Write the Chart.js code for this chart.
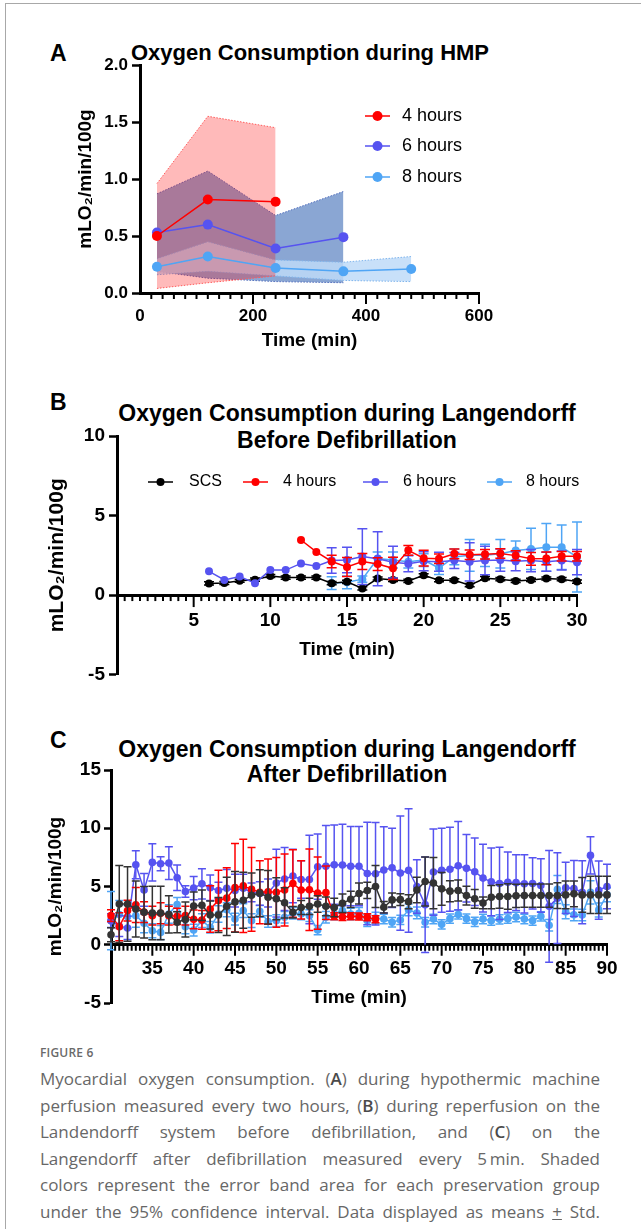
<!DOCTYPE html>
<html>
<head>
<meta charset="utf-8">
<title>Figure 6</title>
<script src="https://cdn.jsdelivr.net/npm/chart.js@4.4.0/dist/chart.umd.min.js"></script>
<style>
  html, body { margin: 0; padding: 0; background: #fff; }
  body { width: 641px; height: 1229px; position: relative; overflow: hidden; font-family: 'Liberation Sans', Arial, sans-serif; }
  .frame { position: absolute; left: 5px; top: 3px; width: 700px; height: 1300px; border-left: 1px solid #a8a8a8; border-top: 1px solid #a8a8a8; }
  canvas { position: absolute; left: 0; }
  .letter { position: absolute; font-weight: bold; font-size: 23px; line-height: 23px; color: #000; }
  .ptitle { position: absolute; font-weight: bold; color: #000; text-align: center; white-space: nowrap; transform: translateX(-50%); }
  .caption { position: absolute; left: 40px; top: 1040px; width: 560px; font-family: 'Open Sans', 'Noto Sans', sans-serif; color: #676767; }
  .caption .head { font-size: 12px; font-weight: 600; line-height: 26px; color: #6a6a6a; letter-spacing: 0.2px; }
  .caption .ln { font-size: 17px; line-height: 26.5px; text-align: justify; text-align-last: justify; white-space: nowrap; }
  .caption b { font-weight: 600; color: #4a4a4a; }
</style>
</head>
<body>
<div class="frame"></div>

<div class="letter" style="left:50px; top:42px;">A</div>
<div class="ptitle" style="left:310px; top:40px; font-size:22px; line-height:26px;">Oxygen Consumption during HMP</div>
<canvas id="chartA" width="641" height="360" style="top:0;"></canvas>

<div class="letter" style="left:50px; top:391px;">B</div>
<div class="ptitle" style="left:347px; top:400px; font-size:23px; line-height:27px;">Oxygen Consumption during Langendorff<br>Before Defibrillation</div>
<canvas id="chartB" width="641" height="330" style="top:360px;"></canvas>

<div class="letter" style="left:50px; top:729px;">C</div>
<div class="ptitle" style="left:347px; top:737px; font-size:23px; line-height:25px;">Oxygen Consumption during Langendorff<br>After Defibrillation</div>
<canvas id="chartC" width="641" height="330" style="top:690px;"></canvas>

<div class="caption">
  <div class="head">FIGURE 6</div>
  <div class="ln">Myocardial oxygen consumption. (<b>A</b>) during hypothermic machine</div>
  <div class="ln">perfusion measured every two hours, (<b>B</b>) during reperfusion on the</div>
  <div class="ln">Landendorff system before defibrillation, and (<b>C</b>) on the</div>
  <div class="ln">Langendorff after defibrillation measured every 5&#8201;min. Shaded</div>
  <div class="ln">colors represent the error band area for each preservation group</div>
  <div class="ln">under the 95% confidence interval. Data displayed as means <u>+</u> Std.</div>
</div>

<script>
// ---- Panel A: HMP, mean and SD band ----
const hmpTime4 = [30, 120, 240];
const hmpTime6 = [30, 120, 240, 360];
const hmpTime8 = [30, 120, 240, 360, 480];
const hmp4Mean = [0.50, 0.82, 0.80];
const hmp4Sd = [0.46, 0.73, 0.65];
const hmp6Mean = [0.53, 0.60, 0.39, 0.49];
const hmp6Sd = [0.34, 0.47, 0.29, 0.40];
const hmp8Mean = [0.23, 0.32, 0.22, 0.19, 0.21];
const hmp8Sd = [0.07, 0.13, 0.07, 0.08, 0.11];
const hmpTicksY = [0, 0.5, 1, 1.5, 2];

// ---- Panel B: Langendorff before defibrillation ----
const bTime = [6, 7, 8, 9, 10, 11, 12, 13, 14, 15, 16, 17, 18, 19, 20, 21, 22, 23, 24, 25, 26, 27, 28, 29, 30];
const b4Time = [12, 13, 14, 15, 16, 17, 18, 19, 20, 21, 22, 23, 24, 25, 26, 27, 28, 29, 30];
const b8Time = [14, 15, 16, 17, 18, 19, 20, 21, 22, 23, 24, 25, 26, 27, 28, 29, 30];
const bScs = [0.73, 0.76, 0.9, 0.97, 1.2, 1.1, 1.1, 1.1, 0.75, 0.83, 0.42, 1.04, 0.95, 0.89, 1.24, 0.93, 0.93, 0.62, 1.06, 1.0, 0.89, 0.95, 1.04, 1.0, 0.85];
const bScsSd = [0.1, 0.1, 0.1, 0.1, 0.1, 0.1, 0.1, 0.1, 0.1, 0.1, 0.1, 0.1, 0.1, 0.1, 0.1, 0.1, 0.1, 0.1, 0.1, 0.1, 0.1, 0.1, 0.1, 0.1, 0.1];
const b4h = [3.46, 2.71, 2.11, 1.76, 2.11, 1.95, 1.68, 2.81, 2.32, 2.28, 2.59, 2.53, 2.57, 2.61, 2.48, 2.28, 2.3, 2.44, 2.44];
const b4hSd = [0, 0, 0.4, 0.6, 0.5, 0.4, 0.7, 0.3, 0.5, 0.3, 0.3, 0.3, 0.3, 0.3, 0.3, 0.4, 0.4, 0.3, 0.3];
const b6h = [1.49, 0.95, 1.16, 0.75, 1.57, 1.57, 1.99, 1.82, 2.17, 2.2, 2.42, 2.28, 2.07, 1.97, 2.13, 2.09, 2.17, 2.09, 2.17, 2.2, 2.13, 2.17, 2.09, 2.17, 2.07];
const b6hSd = [0, 0, 0, 0, 0, 0, 0, 0, 0.8, 0.8, 1.75, 1.7, 1.0, 0.5, 0.6, 0.6, 0.5, 1.2, 0.9, 0.7, 0.6, 0.7, 0.6, 0.6, 0.8];
const b8h = [0.75, 0.8, 1.0, 2.3, 2.2, 2.1, 2.2, 1.7, 2.4, 2.5, 2.5, 2.6, 2.8, 2.9, 3.0, 3.0, 2.4];
const b8hSd = [0.4, 0.4, 0.2, 0.4, 0.5, 0.4, 0.4, 0.4, 0.5, 1.0, 0.7, 0.9, 0.6, 1.3, 1.5, 1.4, 2.2];

// ---- Panel C: Langendorff after defibrillation ----
const cTime = [30, 31, 32, 33, 34, 35, 36, 37, 38, 39, 40, 41, 42, 43, 44, 45, 46, 47, 48, 49,
  50, 51, 52, 53, 54, 55, 56, 57, 58, 59, 60, 61, 62, 63, 64, 65, 66, 67, 68, 69,
  70, 71, 72, 73, 74, 75, 76, 77, 78, 79, 80, 81, 82, 83, 84, 85, 86, 87, 88, 89, 90];
const c4Time = [30, 31, 32, 33, 34, 35, 36, 37, 38, 39, 40, 41, 42, 43, 44, 45, 46, 47, 48, 49,
  50, 51, 52, 53, 54, 55, 56, 57, 58, 59, 60, 61, 62];
const cScs = [0.86, 3.5, 3.5, 3.07, 2.79, 2.73, 2.73, 2.6, 1.93, 2.16,
  3.33, 3.39, 2.56, 2.56, 3.3, 3.68, 3.82, 4.25, 4.43, 4.08,
  3.95, 3.6, 2.79, 3.2, 3.3, 3.5, 3.3, 3.2, 3.56, 3.9,
  4.4, 4.66, 5.0, 3.22, 3.85, 3.87, 3.7, 4.7, 5.43, 5.29,
  4.8, 4.6, 4.66, 4.22, 3.94, 3.59, 4.08, 4.14, 4.14, 4.2,
  4.22, 4.22, 4.22, 4.22, 4.22, 4.28, 4.37, 4.28, 4.28, 4.28, 4.28];
const cScsSd = [0.6, 3.3, 3.2, 2.4, 2.2, 2.3, 2.3, 1.6, 0.9, 1.5,
  1.2, 1.3, 1.2, 1.5, 2.5, 2.6, 2.4, 1.9, 2.0, 2.3,
  1.8, 1.3, 0.5, 0.6, 0.7, 0.7, 0.8, 0.8, 0.8, 0.7,
  0.9, 0.7, 1.8, 0.5, 0.6, 0.5, 0.6, 1.1, 2.1, 2.2,
  1.4, 0.9, 0.9, 0.8, 0.8, 0.5, 1.0, 1.0, 1.1, 1.0,
  1.0, 1.0, 1.0, 1.0, 1.1, 1.2, 1.1, 1.5, 1.6, 1.6, 1.6];
const c4h = [2.5, 1.55, 2.93, 3.42, 2.8, 2.5, 2.7, 2.5, 2.44, 2.5,
  2.18, 2.13, 3.07, 3.8, 4.0, 4.9, 5.05, 4.75, 4.5, 4.55,
  4.5, 4.7, 5.25, 4.7, 4.72, 4.43, 4.47, 2.45, 2.38, 2.45,
  2.42, 2.36, 2.18];
const c4hSd = [0.5, 1.2, 0.9, 1.5, 0.9, 0.8, 0.9, 0.8, 0.7, 0.8,
  0.8, 0.8, 2.0, 2.6, 2.6, 3.8, 4.0, 3.6, 2.7, 2.8,
  3.0, 3.1, 2.9, 2.5, 3.5, 3.1, 2.3, 0.3, 0.3, 0.3,
  0.3, 0.3, 0.3];
const c6h = [2.07, 1.6, 1.44, 6.87, 4.71, 7.07, 6.95, 7.01, 5.75, 4.57,
  4.86, 5.23, 4.89, 4.66, 4.85, 4.65, 4.85, 4.5, 4.4, 4.45,
  5.29, 5.65, 5.9, 5.6, 5.6, 6.7, 6.74, 6.87, 6.84, 6.74,
  6.74, 6.12, 6.1, 6.42, 6.6, 6.15, 6.38, 5.0, 3.44, 6.24,
  6.4, 6.48, 6.78, 6.56, 6.27, 5.72, 5.4, 5.26, 5.36, 5.33,
  5.23, 5.26, 5.09, 3.3, 4.0, 4.89, 4.83, 4.5, 7.67, 4.68, 5.0];
const c6hSd = [0.6, 0.9, 1.0, 1.2, 1.4, 1.6, 0.6, 1.4, 1.1, 0.5,
  1.0, 1.3, 1.1, 0.7, 1.6, 1.4, 1.2, 0.8, 1.0, 1.2,
  2.9, 2.7, 2.3, 1.6, 3.8, 2.8, 3.5, 3.4, 3.5, 3.4,
  3.4, 4.4, 4.4, 3.7, 3.4, 4.9, 5.3, 2.3, 4.1, 3.7,
  3.6, 3.6, 3.8, 2.9, 2.9, 2.9, 2.9, 3.1, 2.6, 2.4,
  2.5, 2.2, 2.3, 4.8, 3.9, 2.2, 2.4, 2.7, 1.6, 2.5, 1.9];
const c8h = [2.07, 2.6, 2.4, 2.5, 1.84, 1.2, 1.06, 2.64, 3.45, 1.55,
  1.26, 2.07, 1.5, 2.64, 3.0, 2.2, 2.93, 2.07, 2.87, 2.0,
  2.07, 2.36, 2.7, 2.64, 2.5, 1.26, 2.36, 2.64, 2.93, 2.64,
  2.7, 2.07, 2.3, 2.21, 1.93, 2.13, 3.0, 2.73, 1.93, 2.21,
  1.75, 2.24, 2.6, 2.24, 1.97, 2.21, 2.07, 2.18, 2.24, 2.38,
  2.21, 2.07, 2.44, 1.67, 4.75, 2.83, 2.57, 2.55, 4.5, 2.99, 4.3];
const c8hSd = [2.5, 1.2, 1.0, 1.0, 0.8, 0.6, 0.6, 0.8, 0.6, 0.6,
  0.5, 0.6, 0.5, 0.7, 0.6, 0.5, 0.6, 0.6, 0.5, 0.5,
  0.5, 0.5, 0.5, 0.5, 0.5, 0.4, 0.5, 0.5, 0.5, 0.5,
  0.5, 0.5, 0.5, 0.4, 0.4, 0.4, 0.5, 0.5, 0.4, 0.4,
  0.4, 0.4, 0.4, 0.4, 0.4, 0.4, 0.4, 0.4, 0.4, 0.4,
  0.4, 0.4, 0.4, 0.5, 1.2, 0.6, 0.5, 0.5, 1.0, 0.6, 0.6];

const RED = '#ff0000';
const PURPLE = '#5653f0';
const SKY = '#4fa5f5';

Chart.defaults.font.family = "'Liberation Sans', Arial, Helvetica, sans-serif";
Chart.defaults.color = '#000';
Chart.defaults.animation = false;

function pts(xs, ys) {
    return xs.map((x, i) => ({ x: x, y: ys[i] }));
}

function offsetBy(mean, sd, sign) {
    return mean.map((m, i) => m + sign * sd[i]);
}

function isMajor(v, every) {
    return Math.abs(v / every - Math.round(v / every)) < 1e-6;
}

// error bars are drawn just before each dataset so points sit on top
const errorBars = {
    id: 'errorBars',
    beforeDatasetDraw(chart, args, opts) {
        const ds = chart.data.datasets[args.index];
        if (!ds.errors) return;
        const ctx = chart.ctx;
        const ys = chart.scales.y;
        ctx.save();
        ctx.strokeStyle = ds.borderColor;
        ctx.lineWidth = opts.width || 1.5;
        args.meta.data.forEach((pt, i) => {
            const v = ds.data[i].y;
            const e = ds.errors[i];
            if (v == null || !e) return;
            const top = ys.getPixelForValue(v + e);
            const bot = ys.getPixelForValue(v - e);
            const w = opts.cap || 4;
            ctx.beginPath();
            ctx.moveTo(pt.x, top); ctx.lineTo(pt.x, bot);
            ctx.moveTo(pt.x - w, top); ctx.lineTo(pt.x + w, top);
            ctx.moveTo(pt.x - w, bot); ctx.lineTo(pt.x + w, bot);
            ctx.stroke();
        });
        ctx.restore();
    }
};

// x tick marks: long on labelled values, short in between
const tickMarks = {
    id: 'tickMarks',
    afterDatasetsDraw(chart, args, opts) {
        const ctx = chart.ctx;
        const xs = chart.scales.x;
        const ys = chart.scales.y;
        const y0 = ys.getPixelForValue(opts.at);
        ctx.save();
        ctx.strokeStyle = '#000';
        ctx.lineWidth = opts.width;
        xs.ticks.forEach(t => {
            if (t.value === xs.min) return;
            const px = xs.getPixelForValue(t.value);
            const len = isMajor(t.value, opts.every) ? opts.major : opts.minor;
            ctx.beginPath();
            ctx.moveTo(px, y0);
            ctx.lineTo(px, y0 + len);
            ctx.stroke();
        });
        ctx.restore();
    }
};

const inlineLegend = {
    id: 'inlineLegend',
    afterDraw(chart, args, opts) {
        if (!opts.items) return;
        const ctx = chart.ctx;
        ctx.save();
        ctx.font = opts.fontSize + "px 'Liberation Sans', Arial, sans-serif";
        ctx.textBaseline = 'middle';
        opts.items.forEach(it => {
            const ds = chart.data.datasets[it.index];
            ctx.strokeStyle = ds.borderColor;
            ctx.lineWidth = opts.lineWidth;
            ctx.beginPath();
            ctx.moveTo(it.x, it.y);
            ctx.lineTo(it.x + opts.lineLen, it.y);
            ctx.stroke();
            ctx.fillStyle = ds.pointBackgroundColor;
            ctx.beginPath();
            ctx.arc(it.x + opts.lineLen / 2, it.y, opts.dot, 0, Math.PI * 2);
            ctx.fill();
            ctx.fillStyle = '#000';
            ctx.fillText(ds.label, it.textX, it.y);
        });
        ctx.restore();
    }
};

function meanLine(label, xs, ys, color, radius, order, errors) {
    return {
        label: label,
        data: pts(xs, ys),
        errors: errors,
        borderColor: color,
        backgroundColor: color,
        pointBackgroundColor: color,
        pointBorderColor: color,
        pointRadius: radius,
        pointBorderWidth: 0,
        borderWidth: 1.5,
        fill: false,
        order: order,
        clip: false
    };
}

function bandEdge(xs, ys, edge, fillColor, order, fillNext) {
    return {
        data: pts(xs, ys),
        borderColor: edge,
        borderWidth: 1,
        borderDash: [1.5, 1.5],
        backgroundColor: fillColor,
        fill: fillNext ? '+1' : false,
        pointRadius: 0,
        order: order
    };
}

function yAxis(min, max, step, size, titleSize, titlePad, tickLen, tickPad, fmt) {
    return {
        type: 'linear',
        min: min,
        max: max,
        afterFit: s => { s.width = 80; },
        grid: { drawOnChartArea: false, drawTicks: true, tickLength: tickLen, tickWidth: 2.5, tickColor: '#000' },
        border: { display: true, color: '#000', width: 3 },
        ticks: { stepSize: step, padding: tickPad, font: { size: size, weight: 'bold' }, callback: fmt },
        title: { display: true, text: 'mLO\u2082/min/100g', font: { size: titleSize, weight: 'bold' }, padding: { top: titlePad, bottom: 0 } }
    };
}

function xAxis(min, max, step, every, position, height, size, labelPad, titlePad) {
    return {
        type: 'linear',
        min: min,
        max: max,
        position: position,
        afterFit: s => { s.height = height; },
        grid: { display: true, drawOnChartArea: false, drawTicks: false },
        border: { display: true, color: '#000', width: 3 },
        ticks: {
            stepSize: step, autoSkip: false, maxRotation: 0, padding: labelPad,
            font: { size: size, weight: 'bold' },
            callback: v => (isMajor(v, every) && v !== min) || (v === 0 && min === 0 && every > 100) ? v : ''
        },
        title: { display: true, text: 'Time (min)', font: { size: 19, weight: 'bold' }, padding: { top: 0, bottom: titlePad } }
    };
}

// ---------- A ----------
new Chart(document.getElementById('chartA'), {
    type: 'line',
    data: {
        datasets: [
            meanLine('4 hours', hmpTime4, hmp4Mean, RED, 5, 1),
            meanLine('6 hours', hmpTime6, hmp6Mean, PURPLE, 5, 2),
            meanLine('8 hours', hmpTime8, hmp8Mean, SKY, 5, 3),
            bandEdge(hmpTime6, offsetBy(hmp6Mean, hmp6Sd, 1), '#4f6cbc', 'rgba(30,85,170,0.52)', 12, true),
            bandEdge(hmpTime6, offsetBy(hmp6Mean, hmp6Sd, -1), '#4f6cbc', 'transparent', 11.5, false),
            bandEdge(hmpTime8, offsetBy(hmp8Mean, hmp8Sd, 1), '#7fb4ec', 'rgba(190,218,248,0.85)', 11, true),
            bandEdge(hmpTime8, offsetBy(hmp8Mean, hmp8Sd, -1), '#7fb4ec', 'transparent', 10.5, false),
            bandEdge(hmpTime4, offsetBy(hmp4Mean, hmp4Sd, 1), '#ff5a5a', 'rgba(255,0,0,0.27)', 10, true),
            bandEdge(hmpTime4, offsetBy(hmp4Mean, hmp4Sd, -1), '#ff5a5a', 'transparent', 9.5, false)
        ]
    },
    options: {
        responsive: false,
        animation: false,
        layout: { padding: { top: 65, left: 60, right: 162, bottom: 5 } },
        plugins: {
            legend: { display: false },
            tooltip: { enabled: false },
            title: { display: false },
            tickMarks: { at: 0, every: 200, major: 11, minor: 6, width: 2 },
            inlineLegend: {
                fontSize: 18, lineWidth: 1.5, lineLen: 25, dot: 5,
                items: [
                    { index: 0, x: 365, y: 116, textX: 402 },
                    { index: 1, x: 365, y: 146, textX: 402 },
                    { index: 2, x: 365, y: 177, textX: 402 }
                ]
            }
        },
        scales: {
            x: xAxis(0, 600, 20, 200, 'bottom', 62, 17, 13, 3),
            y: yAxis(0, 2, 0.5, 17, 19, 14.6, 8, 4, v => hmpTicksY.includes(v) ? v.toFixed(1) : '')
        }
    },
    plugins: [tickMarks, inlineLegend]
});

// ---------- B ----------
new Chart(document.getElementById('chartB'), {
    type: 'line',
    data: {
        datasets: [
            meanLine('SCS', bTime, bScs, '#000000', 4, 3, bScsSd),
            meanLine('4 hours', b4Time, b4h, RED, 4, 1, b4hSd),
            meanLine('6 hours', bTime, b6h, PURPLE, 4, 2, b6hSd),
            meanLine('8 hours', b8Time, b8h, SKY, 4, 4, b8hSd)
        ]
    },
    options: {
        responsive: false,
        animation: false,
        layout: { padding: { top: 76, left: 37, right: 64, bottom: 13 } },
        plugins: {
            legend: { display: false },
            tooltip: { enabled: false },
            errorBars: { width: 1.5, cap: 5 },
            tickMarks: { at: 0, every: 5, major: 12, minor: 6, width: 2 },
            inlineLegend: {
                fontSize: 16, lineWidth: 1.5, lineLen: 25, dot: 4,
                items: [
                    { index: 0, x: 148, y: 122, textX: 189 },
                    { index: 1, x: 243, y: 122, textX: 283 },
                    { index: 2, x: 363, y: 122, textX: 403 },
                    { index: 3, x: 487, y: 122, textX: 526 }
                ]
            }
        },
        scales: {
            x: xAxis(0, 30, 0.5, 5, { y: 0 }, 70, 19, 14, 3.6),
            y: yAxis(-5, 10, 5, 19, 21, 8, 8, 4, v => v)
        }
    },
    plugins: [errorBars, tickMarks, inlineLegend]
});

// ---------- C ----------
new Chart(document.getElementById('chartC'), {
    type: 'line',
    data: {
        datasets: [
            meanLine('SCS', cTime, cScs, '#333333', 3.8, 1, cScsSd),
            meanLine('4 hours', c4Time, c4h, RED, 3.8, 2, c4hSd),
            meanLine('6 hours', cTime, c6h, PURPLE, 3.8, 3, c6hSd),
            meanLine('8 hours', cTime, c8h, SKY, 3.8, 4, c8hSd)
        ]
    },
    options: {
        responsive: false,
        animation: false,
        layout: { padding: { top: 80, left: 31, right: 34, bottom: 17 } },
        plugins: {
            legend: { display: false },
            tooltip: { enabled: false },
            errorBars: { width: 1.5, cap: 4 },
            tickMarks: { at: 0, every: 5, major: 11, minor: 6, width: 2 }
        },
        scales: {
            x: xAxis(30, 90, 0.5, 5, { y: 0 }, 70, 19, 13, 5.6),
            y: yAxis(-5, 15, 5, 19, 19, 13.6, 7, 3, v => v)
        }
    },
    plugins: [errorBars, tickMarks]
});
</script>
</body>
</html>
